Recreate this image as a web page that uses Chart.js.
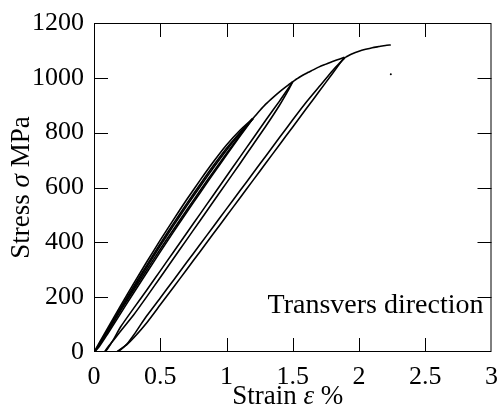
<!DOCTYPE html>
<html>
<head>
<meta charset="utf-8">
<script src="https://cdn.jsdelivr.net/npm/chart.js@4.4.1/dist/chart.umd.min.js"></script>
<style>
  html, body { margin: 0; padding: 0; background: #fff; }
  #wrap { width: 500px; height: 412px; }
</style>
</head>
<body>
<div id="wrap"><canvas id="ssChart"></canvas></div>
<script>
// axis ticks
const strainTicks = [0, 0.5, 1, 1.5, 2, 2.5, 3];
const stressTicks = [0, 200, 400, 600, 800, 1000, 1200];

// [strain %, stress MPa], in test order
const virginLoad = [[0,0],[0.1,84],[0.2,168],[0.3,250],[0.4,330],[0.5,408],[0.6,483],[0.7,556],[0.8,626],[0.9,693],[1.0,755],[1.1,808],[1.2,852]];
const cycleUnloadA = [[1.2,852],[1.1,786],[1.0,718],[0.9,650],[0.8,580],[0.7,510],[0.6,438],[0.5,365],[0.4,291],[0.3,216],[0.2,140],[0.1,64],[0.04,20],[0.01,4]];
const cycleReloadA = [[0.01,4],[0.1,78],[0.2,160],[0.3,240],[0.4,318],[0.5,395],[0.6,469],[0.7,541],[0.8,611],[0.9,679],[1.0,743],[1.1,800],[1.2,852]];
const cycleUnloadB = [[1.2,852],[1.1,790],[1.0,724],[0.9,657],[0.8,588],[0.7,518],[0.6,447],[0.5,375],[0.4,301],[0.3,226],[0.2,150],[0.1,72],[0.05,34],[0.02,12]];
const cycleReloadB = [[0.02,12],[0.1,74],[0.2,154],[0.3,233],[0.4,311],[0.5,387],[0.6,461],[0.7,533],[0.8,603],[0.9,671],[1.0,736],[1.1,796],[1.2,852]];
const loadToPeak1 = [[1.2,852],[1.25,880],[1.3,906],[1.35,928],[1.4,949],[1.45,968],[1.5,986]];
const unload1 = [[1.5,986],[1.47,958],[1.4,900],[1.3,826],[1.2,756],[1.1,686],[1.0,617],[0.9,548],[0.8,479],[0.7,410],[0.6,341],[0.5,272],[0.4,203],[0.3,136],[0.2,76],[0.15,45],[0.1,15],[0.08,0]];
const reload1 = [[0.08,0],[0.1,10],[0.15,48],[0.2,91],[0.3,160],[0.4,227],[0.5,296],[0.6,365],[0.7,434],[0.8,503],[0.9,572],[1.0,641],[1.1,710],[1.2,779],[1.3,848],[1.4,915],[1.45,950],[1.5,986]];
const loadToPeak2 = [[1.5,986],[1.55,1002],[1.6,1016],[1.65,1028],[1.7,1040],[1.75,1050],[1.8,1060],[1.85,1068],[1.89,1075]];
const unload2 = [[1.89,1075],[1.8,1016],[1.7,951],[1.6,886],[1.5,821],[1.4,756],[1.3,691],[1.2,626],[1.1,561],[1.0,496],[0.9,431],[0.8,366],[0.7,301],[0.6,236],[0.5,172],[0.4,108],[0.3,52],[0.25,28],[0.2,10],[0.17,0]];
const reload2 = [[0.17,0],[0.2,8],[0.25,30],[0.3,62],[0.35,98],[0.4,133],[0.5,197],[0.6,262],[0.7,327],[0.8,392],[0.9,457],[1.0,522],[1.1,587],[1.2,652],[1.3,717],[1.4,782],[1.5,847],[1.6,910],[1.7,968],[1.8,1026],[1.85,1052],[1.9,1076]];
const loadToEnd = [[1.9,1076],[1.95,1088],[2.0,1097],[2.05,1104],[2.1,1110],[2.15,1114],[2.2,1118],[2.24,1120]];
const strayPoint = [[2.24,1013]];

const segments = [virginLoad, cycleUnloadA, cycleReloadA, cycleUnloadB, cycleReloadB,
  loadToPeak1, unload1, reload1, loadToPeak2, unload2, reload2, loadToEnd];

const serif = "'Liberation Serif', 'Times New Roman', serif";

function toXY(arr) {
  return arr.map(function(p) { return { x: p[0], y: p[1] }; });
}

const datasets = segments.map(function(seg) {
  return {
    data: toXY(seg),
    showLine: true,
    borderColor: '#000',
    borderWidth: 1.6,
    pointRadius: 0,
    tension: 0.2
  };
});
datasets.push({
  data: toXY(strayPoint),
  showLine: false,
  pointRadius: 1,
  pointBackgroundColor: '#000',
  pointBorderWidth: 0
});

// frame, inward ticks, axis titles and the note
const framePlugin = {
  id: 'frame',
  afterDraw: function(chart) {
    const c = chart.ctx;
    const a = chart.chartArea;
    const xs = chart.scales.x;
    const ys = chart.scales.y;
    const len = 14;
    c.save();
    c.strokeStyle = '#000';
    c.lineWidth = 1;
    c.strokeRect(a.left + 0.5, a.top + 0.5, a.right - a.left - 1, a.bottom - a.top - 1);
    c.beginPath();
    strainTicks.forEach(function(v) {
      const px = Math.round(xs.getPixelForValue(v)) + 0.5;
      if (v === 0 || v === 3) return;
      c.moveTo(px, a.bottom); c.lineTo(px, a.bottom - len);
      c.moveTo(px, a.top); c.lineTo(px, a.top + len);
    });
    stressTicks.forEach(function(v) {
      const py = Math.round(ys.getPixelForValue(v)) + 0.5;
      if (v === 0 || v === 1200) return;
      c.moveTo(a.left, py); c.lineTo(a.left + len, py);
      c.moveTo(a.right, py); c.lineTo(a.right - len, py);
    });
    c.stroke();

    c.fillStyle = '#000';
    c.textBaseline = 'alphabetic';
    // x title
    drawParts(c, [['Strain ', ''], ['\u03b5', 'italic '], [' %', '']], (a.left + a.right) / 2 - 5, 404);
    // y title
    c.translate(29, (a.top + a.bottom) / 2);
    c.rotate(-Math.PI / 2);
    drawParts(c, [['Stress ', ''], ['\u03c3', 'italic '], [' MPa', '']], 0, 0);
    c.restore();

    c.save();
    c.fillStyle = '#000';
    c.font = '28px ' + serif;
    c.textAlign = 'left';
    c.textBaseline = 'middle';
    c.fillText('Transvers direction', xs.getPixelForValue(1.31), ys.getPixelForValue(168));
    c.restore();
  }
};

function drawParts(c, parts, cx, y) {
  let total = 0;
  parts.forEach(function(p) {
    c.font = p[1] + '27px ' + serif;
    total += c.measureText(p[0]).width;
  });
  let x = cx - total / 2;
  c.textAlign = 'left';
  parts.forEach(function(p) {
    c.font = p[1] + '27px ' + serif;
    c.fillText(p[0], x, y);
    x += c.measureText(p[0]).width;
  });
}

new Chart(document.getElementById('ssChart'), {
  type: 'scatter',
  data: { datasets: datasets },
  options: {
    responsive: true,
    maintainAspectRatio: false,
    animation: false,
    layout: { padding: { top: 23, right: 8, left: 0, bottom: 0 } },
    plugins: {
      legend: { display: false },
      tooltip: { enabled: false }
    },
    scales: {
      x: {
        type: 'linear',
        min: 0,
        max: 3,
        grid: { display: false },
        border: { display: false },
        afterFit: function(s) { s.height = 60; },
        afterBuildTicks: function(s) { s.ticks = strainTicks.map(function(v) { return { value: v }; }); },
        ticks: {
          color: '#000',
          padding: 2,
          maxRotation: 0,
          font: { family: serif, size: 26 },
          callback: function(v) { return String(v); }
        }
      },
      y: {
        type: 'linear',
        min: 0,
        max: 1200,
        grid: { display: false },
        border: { display: false },
        afterFit: function(s) { s.width = 94; },
        afterBuildTicks: function(s) { s.ticks = stressTicks.map(function(v) { return { value: v }; }); },
        ticks: {
          color: '#000',
          padding: 2,
          font: { family: serif, size: 26 },
          callback: function(v) { return String(v); }
        }
      }
    }
  },
  plugins: [framePlugin]
});
</script>
</body>
</html>
